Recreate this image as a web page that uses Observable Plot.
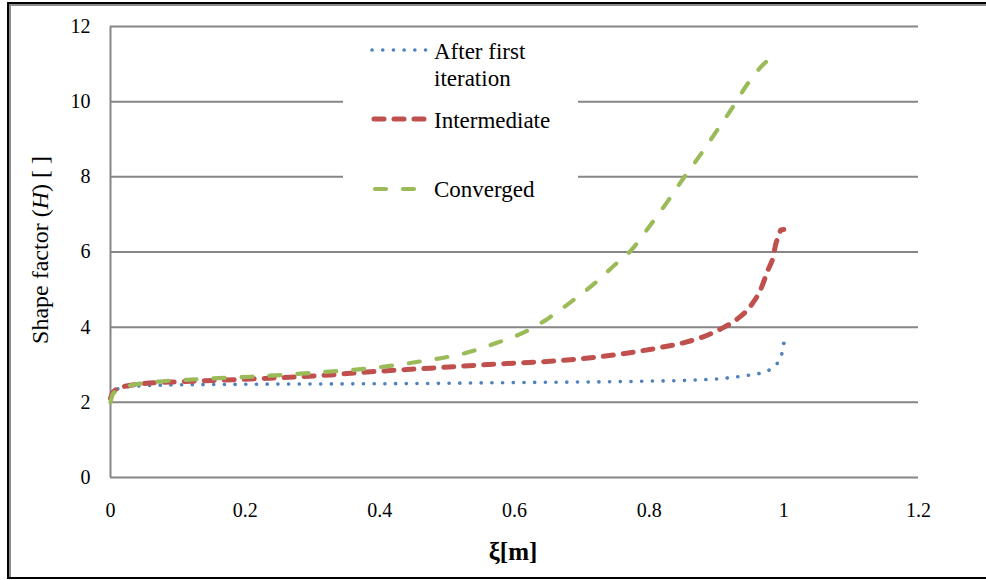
<!DOCTYPE html>
<html>
<head>
<meta charset="utf-8">
<script src="https://cdn.jsdelivr.net/npm/d3@7"></script>
<script src="https://cdn.jsdelivr.net/npm/@observablehq/plot@0.6"></script>
<style>
  html, body { margin: 0; padding: 0; background: #fff; }
  #wrap { position: relative; width: 986px; height: 580px; overflow: hidden; background: #fff;
          font-family: "Liberation Serif", "Times New Roman", Times, "DejaVu Serif", serif; color: #000; }
  #chart { position: absolute; left: 0; top: 0; }
  .frame { position: absolute; left: 7px; top: 2px; width: 1010px; height: 577px; box-sizing: border-box;
           border: 2px solid #000; box-shadow: inset 2px 2px 0 0 #8c8c8c; pointer-events: none; }
  #legend { position: absolute; left: 343px; top: 35px; width: 235px; height: 180px; background: #fff; }
  .ytitle { position: absolute; left: 40px; top: 250px; font-size: 24px; line-height: 24px; white-space: nowrap;
            transform: translate(-50%, -50%) rotate(-90deg); }
  .xtitle { position: absolute; left: 513px; top: 539px; font-size: 25px; line-height: 25px; font-weight: bold;
            white-space: nowrap; transform: translateX(-50%); }
</style>
</head>
<body>
<div id="wrap">
  <div id="chart"></div>
  <div id="legend"></div>
  <div class="ytitle">Shape factor (<i>H</i>) [ ]</div>
  <div class="xtitle">ξ[m]</div>
  <div class="frame"></div>
</div>
<script>
// ---- Data ----
const seriesNames = ["After first iteration", "Intermediate", "Converged"];

const firstX = [0, 0.005, 0.01, 0.02, 0.045, 0.08, 0.134, 0.2, 0.327, 0.45, 0.624, 0.75, 0.817, 0.847, 0.877, 0.906, 0.921, 0.936, 0.951, 0.966, 0.981, 0.991, 0.9975, 1.0];
const firstY = [2.15, 2.28, 2.35, 2.40, 2.44, 2.46, 2.47, 2.48, 2.49, 2.50, 2.53, 2.55, 2.57, 2.58, 2.60, 2.63, 2.66, 2.69, 2.73, 2.78, 2.89, 3.06, 3.33, 3.57];

const interX = [0, 0.003, 0.01, 0.02, 0.045, 0.09, 0.134, 0.208, 0.327, 0.376, 0.475, 0.575, 0.673, 0.748, 0.817, 0.852, 0.881, 0.906, 0.931, 0.951, 0.966, 0.976, 0.984, 0.988, 0.993, 0.9955, 1.0];
const interY = [2.1, 2.25, 2.36, 2.42, 2.49, 2.54, 2.57, 2.62, 2.73, 2.80, 2.91, 3.02, 3.12, 3.26, 3.46, 3.59, 3.75, 3.95, 4.22, 4.57, 5.02, 5.50, 5.86, 6.21, 6.45, 6.59, 6.6];

const convX = [0, 0.003, 0.01, 0.045, 0.134, 0.208, 0.327, 0.376, 0.45, 0.535, 0.575, 0.614, 0.649, 0.683, 0.718, 0.748, 0.773, 0.80, 0.828, 0.852, 0.877, 0.899, 0.924, 0.946, 0.973, 0.981];
const convY = [2.0, 2.2, 2.32, 2.5, 2.62, 2.68, 2.82, 2.89, 3.06, 3.35, 3.59, 3.86, 4.22, 4.66, 5.15, 5.64, 6.04, 6.67, 7.36, 7.99, 8.61, 9.19, 9.85, 10.47, 11.05, 11.17];

const xTicks = [0, 0.2, 0.4, 0.6, 0.8, 1, 1.2];
const yTicks = [0, 2, 4, 6, 8, 10, 12];

// ---- Styles ----
const fontStack = "'Liberation Serif', 'Times New Roman', Times, 'DejaVu Serif', serif";
const colors = ["#4F81BD", "#C0504D", "#9BBB59"];
const styles = [
  {strokeWidth: 3.6, strokeDasharray: "0.1 10.6"},
  {strokeWidth: 5, strokeDasharray: "10 10"},
  {strokeWidth: 4.2, strokeDasharray: "11 17"}
];
const gridColor = "#868686";

const toRows = (xs, ys) => xs.map((x, i) => ({x, y: ys[i]}));
const datasets = [toRows(firstX, firstY), toRows(interX, interY), toRows(convX, convY)];
const firstEnd = datasets[0].slice(-1);

const chart = Plot.plot({
  width: 986,
  height: 580,
  marginLeft: 110,
  marginRight: 68,
  marginTop: 26,
  marginBottom: 103,
  style: {background: "transparent", fontFamily: fontStack, fontSize: "20px", color: "#000", overflow: "visible"},
  x: {domain: [0, 1.2], label: null},
  y: {domain: [0, 12], label: null},
  marks: [
    Plot.ruleY(yTicks, {stroke: gridColor, strokeWidth: 2}),
    Plot.ruleX([0], {stroke: gridColor, strokeWidth: 2}),
    Plot.axisX({ticks: xTicks, tickSize: 0, tickPadding: 25, tickFormat: d => String(d), label: null, fontSize: 20}),
    Plot.axisY({ticks: yTicks, tickSize: 0, tickPadding: 20, tickFormat: d => String(d), label: null, fontSize: 20}),
    ...datasets.map((data, i) => Plot.line(data, {
      x: "x", y: "y", curve: "monotone-x",
      stroke: colors[i], strokeLinecap: "round", strokeLinejoin: "round",
      ...styles[i]
    })),
    Plot.dot(firstEnd, {x: "x", y: "y", r: 1.9, fill: colors[0], stroke: "none"})
  ]
});
document.getElementById("chart").appendChild(chart);

// ---- Legend (swatches + labels) ----
const legend = d3.select("#legend").append("svg")
  .attr("width", 235).attr("height", 180)
  .style("font-family", fontStack)
  .style("font-size", "23px");

const legendItems = [
  {x1: 29, x2: 85, y: 15, lines: ["After first", "iteration"], ty: 24},
  {x1: 31, x2: 81, y: 84, lines: ["Intermediate"], ty: 93},
  {x1: 32, x2: 82, y: 154, lines: ["Converged"], ty: 162}
];
legendItems.forEach((it, i) => {
  legend.append("line")
    .attr("x1", it.x1).attr("x2", it.x2).attr("y1", it.y).attr("y2", it.y)
    .attr("stroke", colors[i]).attr("stroke-width", styles[i].strokeWidth)
    .attr("stroke-dasharray", styles[i].strokeDasharray).attr("stroke-linecap", "round");
  const t = legend.append("text").attr("x", 91).attr("y", it.ty).attr("fill", "#000");
  it.lines.forEach((ln, j) => {
    t.append("tspan").attr("x", 91).attr("dy", j === 0 ? 0 : 27).text(ln);
  });
});
</script>
</body>
</html>
